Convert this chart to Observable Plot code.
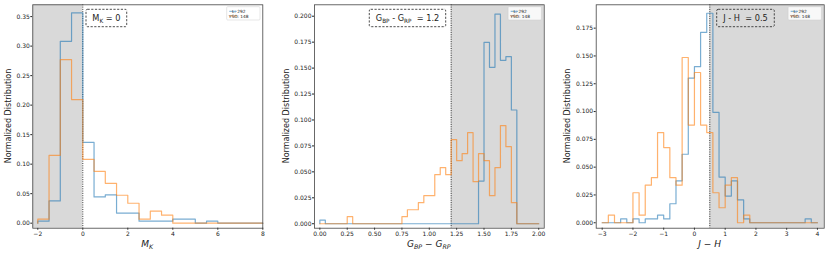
<!DOCTYPE html>
<html><head><meta charset="utf-8">
<script src="https://cdn.jsdelivr.net/npm/d3@7"></script>
<script src="https://cdn.jsdelivr.net/npm/@observablehq/plot@0.6"></script>
<style>
body{margin:0;background:#fff;}
#row{display:flex;width:831px;height:253px;overflow:hidden;}
#row svg{display:block;flex:none;}
</style></head><body><div id="row"></div>
<script>
// ---------- Panel 1: M_K ----------
const mkBinStart = -2, mkBinWidth = 0.5;
const mkL   = [0.0034,0.0377,0.3082,0.3562,0.1370,0.0445,0.0479,0.0171,0.0171,0.0034,0.0034,0.0034,0.0068,0.0068,0,0.0034,0,0,0,0];
const mkYSO = [0.0068,0.1149,0.2770,0.2095,0.1081,0.0878,0.0676,0.0473,0.0338,0.0068,0.0203,0.0135,0,0,0,0,0,0,0,0];
const mkXTicks = [-2,0,2,4,6,8];
const mkYTicks = [0,0.05,0.10,0.15,0.20,0.25,0.30,0.35];
const mkCut = 0;

// ---------- Panel 2: G_BP - G_RP ----------
const bpBinStart = 0, bpBinWidth = 0.05;
const bpL   = [0.0034,0,0,0,0,0,0,0,0,0,0,0,0,0,0,0,0,0,0,0,0,0,0,0,0,0,0,0,0,
               0.0411,0.1747,0.1507,0.2021,0.1575,0.1610,0.1096,0,0,0,0];
const bpYSO = [0,0,0,0,0,0.0068,0,0,0,0,0,0,0,0,0,
               0.0068,0.0135,0.0135,0.0203,0.0270,0.0270,0.0473,0.0541,0.0473,0.0811,0.0608,
               0.0676,0.0878,0.0405,0.0676,0.0608,0.0270,0.0541,0.0946,0.0743,0.0203,0,0,0,0];
const bpXTicks = [0,0.25,0.5,0.75,1.0,1.25,1.5,1.75,2.0];
const bpYTicks = [0,0.025,0.05,0.075,0.1,0.125,0.15,0.175,0.2];
const bpCut = 1.2;

// ---------- Panel 3: J - H ----------
const jhBinStart = -3, jhBinWidth = 0.2;
const jhL   = [0,0,0,0.0034,0,0.0034,0,0.0034,0.0034,0.0068,0.0034,0.0171,0.0377,0.0616,0.1301,0.1404,
               0.1712,0.1884,0.0993,0.0411,0.0240,0.0377,0.0205,0.0034,0,0,0,0,0,0,0,0,0,0.0034,0];
const jhYSO = [0,0.0068,0,0,0,0.0270,0.0068,0.0338,0.0405,0.0811,0.0676,0.0405,0.0338,0.1486,0.0878,0.1351,
               0.0878,0.0811,0.0270,0.0135,0.0338,0.0405,0,0.0068,0,0,0,0,0,0,0,0,0,0,0];
const jhXTicks = [-3,-2,-1,0,1,2,3,4];
const jhYTicks = [0,0.025,0.05,0.075,0.1,0.125,0.15,0.175];
const jhCut = 0.5;

const legendLabels = ["L: 292", "YSO: 148"];
const H = 253;

function steps(start, w, vals) {
  const pts = [{x: start, y: 0}];
  vals.forEach((v, i) => pts.push({x: start + i * w, y: v}));
  const end = start + vals.length * w;
  pts.push({x: end, y: vals[vals.length - 1]});
  pts.push({x: end, y: 0});
  return pts;
}

function rich(el, parts, size) {
  let shifted = false;
  parts.forEach(p => {
    const t = el.append("tspan").text(p.t);
    if (p.sub && !shifted) { t.attr("dy", size * 0.22).attr("font-size", size * 0.7); shifted = true; }
    else if (p.sub) { t.attr("font-size", size * 0.7); }
    else if (!p.sub && shifted) { t.attr("dy", -size * 0.22); shifted = false; }
  });
}

const panels = [
  {width: 277, mL: 32.3, mR: 14.7, xDomain: [-2.222, 8], yDomain: [-0.0085, 0.370],
   xTicks: mkXTicks, yTicks: mkYTicks, xFmt: d3.format("d"), yFmt: d3.format(".2f"),
   start: mkBinStart, w: mkBinWidth, L: mkL, Y: mkYSO, cut: mkCut, shade: "left",
   yLabX: 11, annFrac: 0.322, annW: 40.7,
   ann: [{t: "M"}, {t: "K", sub: true}, {t: " = 0"}],
   xl: [{t: "M"}, {t: "K", sub: true}]},
  {width: 277, mL: 37, mR: 10.3, xDomain: [-0.049, 2.05], yDomain: [-0.0043, 0.211],
   xTicks: bpXTicks, yTicks: bpYTicks, xFmt: d3.format(".2f"), yFmt: d3.format(".3f"),
   start: bpBinStart, w: bpBinWidth, L: bpL, Y: bpYSO, cut: bpCut, shade: "right",
   yLabX: 12.3, annFrac: 0.407, annW: 76.4,
   ann: [{t: "G"}, {t: "BP", sub: true}, {t: " - G"}, {t: "RP", sub: true}, {t: "  = 1.2"}],
   xl: [{t: "G"}, {t: "BP", sub: true}, {t: " \u2212 G"}, {t: "RP", sub: true}]},
  {width: 277, mL: 41.7, mR: 7.3, xDomain: [-3.195, 4.22], yDomain: [-0.0049, 0.196],
   xTicks: jhXTicks, yTicks: jhYTicks, xFmt: d3.format("d"), yFmt: d3.format(".3f"),
   start: jhBinStart, w: jhBinWidth, L: jhL, Y: jhYSO, cut: jhCut, shade: "right",
   yLabX: 16, annFrac: 0.657, annW: 57.6,
   ann: [{t: "J - H  = 0.5"}],
   xl: [{t: "J \u2212 H"}]}
];

const row = document.getElementById("row");
panels.forEach(c => {
  const mT = 4.3, mB = 25.3;
  const shade = c.shade === "left" ? {x1: c.xDomain[0], x2: c.cut} : {x1: c.cut, x2: c.xDomain[1]};
  shade.y1 = c.yDomain[0]; shade.y2 = c.yDomain[1];
  const svg = Plot.plot({
    width: c.width, height: H,
    marginLeft: c.mL, marginRight: c.mR, marginTop: mT, marginBottom: mB,
    style: {fontFamily: "DejaVu Sans", fontSize: "6px", color: "#222", background: "white", overflow: "visible"},
    x: {domain: c.xDomain, ticks: c.xTicks, tickFormat: c.xFmt, label: null, tickSize: 2, tickPadding: 1.5},
    y: {domain: c.yDomain, ticks: c.yTicks, tickFormat: c.yFmt, label: null, tickSize: 2, tickPadding: 1},
    marks: [
      Plot.rect([shade], {x1: "x1", x2: "x2", y1: "y1", y2: "y2", fill: "#d9d9d9"}),
      Plot.ruleX([c.cut], {stroke: "#222", strokeWidth: 0.9, strokeDasharray: "1,1.3"}),
      Plot.line(steps(c.start, c.w, c.L), {x: "x", y: "y", curve: "step-after", stroke: "#1f77b4", strokeOpacity: 0.6, strokeWidth: 1.2}),
      Plot.line(steps(c.start, c.w, c.Y), {x: "x", y: "y", curve: "step-after", stroke: "#ff7f0e", strokeOpacity: 0.6, strokeWidth: 1.2}),
      Plot.frame({stroke: "#444", strokeWidth: 0.8})
    ]
  });
  row.appendChild(svg);
  const s = d3.select(svg);
  const fl = c.mL, fr = c.width - c.mR, ft = mT, fb = H - mB;
  // y label
  s.append("text")
    .attr("transform", `translate(${c.yLabX},${(ft + fb) / 2}) rotate(-90)`)
    .attr("text-anchor", "middle").attr("font-size", 8).attr("fill", "#222")
    .text("Normalized Distribution");
  // x label
  const xl = s.append("text").attr("x", (fl + fr) / 2).attr("y", 247.3)
    .attr("text-anchor", "middle").attr("font-size", 9).attr("font-style", "italic").attr("fill", "#222");
  rich(xl, c.xl, 9);
  // annotation box
  const cx = fl + c.annFrac * (fr - fl), cy = ft + 13.7;
  s.append("rect").attr("x", cx - c.annW / 2).attr("y", ft + 5).attr("width", c.annW).attr("height", 17.4)
    .attr("rx", 1.5).attr("fill", "none").attr("stroke", "#222").attr("stroke-width", 0.8)
    .attr("stroke-dasharray", "2.2,1.5");
  const at = s.append("text").attr("x", cx).attr("y", cy + 2.9).attr("text-anchor", "middle")
    .attr("font-size", 8.2).attr("fill", "#222").style("white-space", "pre");
  rich(at, c.ann, 8.2);
  // legend
  const lw = 33.3, lh = 13.3, lx = fr - 2.3 - lw, ly = ft + 2.4;
  s.append("rect").attr("x", lx).attr("y", ly).attr("width", lw).attr("height", lh).attr("rx", 1)
    .attr("fill", "white").attr("fill-opacity", 0.8).attr("stroke", "#ccc").attr("stroke-width", 0.5);
  [["#1f77b4", 4.6], ["#ff7f0e", 9.3]].forEach(([col, dy], i) => {
    s.append("line").attr("x1", lx + 2.6).attr("x2", lx + 10).attr("y1", ly + dy).attr("y2", ly + dy)
      .attr("stroke", col).attr("stroke-opacity", 0.6).attr("stroke-width", 1);
    s.append("text").attr("x", lx + 12).attr("y", ly + dy + 1.5).attr("font-size", 4.3).attr("fill", "#222")
      .text(legendLabels[i]);
  });
});
</script></body></html>
